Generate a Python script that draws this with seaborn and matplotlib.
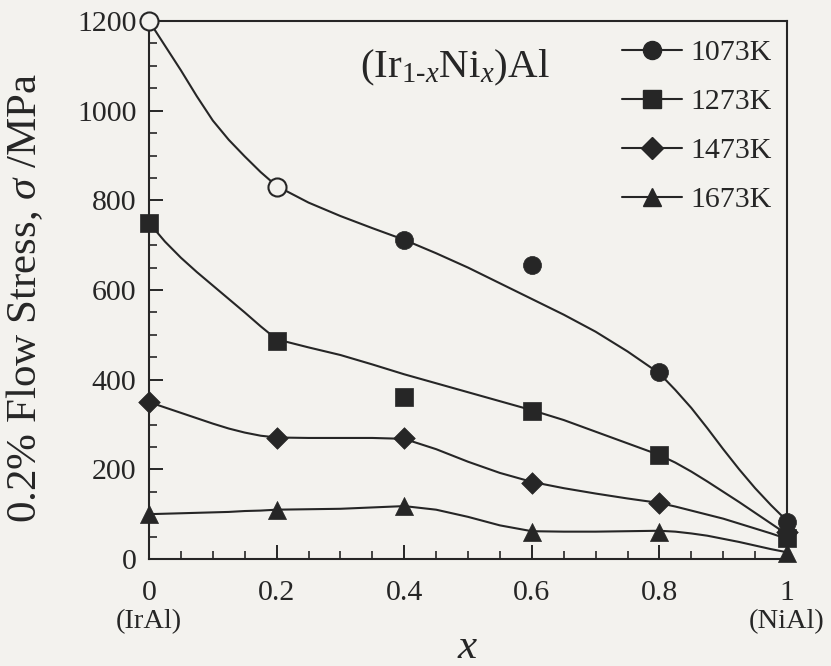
import numpy as np
import pandas as pd
import matplotlib
matplotlib.use("Agg")
import matplotlib.pyplot as plt
from matplotlib.lines import Line2D
import matplotlib.transforms as mtransforms
import seaborn as sns

# ---- data ----
temps = ["1073K", "1273K", "1473K", "1673K"]
x_pts = [0.0, 0.2, 0.4, 0.6, 0.8, 1.0]
s1073 = [1200, 830, 712, 655, 416, 83]
s1273 = [750, 487, 361, 331, 232, 47]
s1473 = [350, 270, 270, 170, 125, 60]
s1673 = [100, 110, 118, 60, 60, 13]
open_1073 = [True, True, False, False, False, False]

# smooth (hand-drawn) fit curves
cx = [0, .025, .05, .075, .1, .125, .15, .175, .2, .25, .3, .35, .4, .45, .5, .55, .6,
      .65, .7, .75, .8, .825, .85, .875, .9, .925, .95, .975, 1.0]
c1073 = [1200, 1145, 1090, 1032, 978, 935, 898, 863, 832, 795, 765, 738, 712, 682, 650,
         615, 580, 545, 507, 463, 414, 377, 337, 292, 245, 200, 158, 120, 85]
c1273 = [750, 708, 672, 640, 610, 580, 550, 519, 490, 472, 455, 434, 412, 392, 372,
         352, 332, 310, 284, 258, 232, 215, 195, 173, 150, 127, 103, 79, 55]
c1473 = [350, 338, 326, 314, 302, 291, 282, 275, 271, 270, 270, 270, 268, 245, 217,
         192, 172, 158, 146, 135, 125, 117, 108, 99, 90, 79, 68, 57, 45]
c1673 = [100, 101, 102, 103, 104, 105, 107, 108, 110, 111, 112, 115, 118, 110, 94,
         75, 62, 61, 61, 62, 63, 61, 57, 52, 45, 38, 30, 22, 15]

xticks = [0, 0.2, 0.4, 0.6, 0.8, 1.0]
xticklabels = ["0", "0.2", "0.4", "0.6", "0.8", "1"]
yticks = [0, 200, 400, 600, 800, 1000, 1200]

# ---- styling ----
sns.set_theme(style="ticks")
bg = "#f3f2ee"
ink = "#262626"
plt.rcParams["font.family"] = ["Liberation Serif", "DejaVu Serif"]
plt.rcParams["mathtext.fontset"] = "custom"
plt.rcParams["mathtext.rm"] = "Liberation Serif"
plt.rcParams["mathtext.it"] = "Liberation Serif:italic"
plt.rcParams["text.color"] = ink
plt.rcParams["axes.labelcolor"] = ink
plt.rcParams["xtick.color"] = ink
plt.rcParams["ytick.color"] = ink

pts = pd.DataFrame({
    "x": x_pts * 4,
    "y": s1073 + s1273 + s1473 + s1673,
    "T": sum([[t] * len(x_pts) for t in temps], []),
    "open": open_1073 + [False] * (3 * len(x_pts)),
})
curves = pd.DataFrame({
    "x": cx * 4,
    "y": c1073 + c1273 + c1473 + c1673,
    "T": sum([[t] * len(cx) for t in temps], []),
})

markers = {"1073K": "o", "1273K": "s", "1473K": "D", "1673K": "^"}
msize = {"1073K": 13, "1273K": 13, "1473K": 11, "1673K": 13}

fig = plt.figure(figsize=(8.31, 6.66), dpi=100, facecolor=bg)
ax = fig.add_axes([149 / 831, 107 / 666, 638 / 831, 538 / 666])
ax.set_facecolor(bg)

sns.lineplot(data=curves, x="x", y="y", hue="T", palette={t: ink for t in temps},
             estimator=None, sort=False, linewidth=1.5, legend=False, ax=ax, zorder=2)

for t in temps:
    sub = pts[(pts["T"] == t) & (~pts["open"])]
    sns.scatterplot(data=sub, x="x", y="y", marker=markers[t], color=ink,
                    s=msize[t] ** 2, edgecolor=ink, linewidth=0.5, legend=False,
                    ax=ax, zorder=3, clip_on=False)
    subo = pts[(pts["T"] == t) & (pts["open"])]
    if len(subo):
        sns.scatterplot(data=subo, x="x", y="y", marker=markers[t], color=bg,
                        s=msize[t] ** 2, edgecolor=ink, linewidth=1.5, legend=False,
                        ax=ax, zorder=4, clip_on=False)

ax.set_xlim(0, 1)
ax.set_ylim(0, 1200)
ax.set_xticks(xticks)
ax.set_xticklabels(xticklabels)
ax.set_yticks(yticks)
ax.set_xticks(np.arange(0, 1.0001, 0.05), minor=True)
ax.set_yticks(np.arange(0, 1201, 50), minor=True)
ax.tick_params(axis="both", which="major", direction="in", length=10, width=1.4,
               labelsize=21.5, top=False, right=False)
ax.tick_params(axis="both", which="minor", direction="in", length=6, width=1.2,
               top=False, right=False)
ax.tick_params(axis="y", which="major", pad=9)
ax.tick_params(axis="x", which="major", pad=15)
for sp in ax.spines.values():
    sp.set_visible(True)
    sp.set_linewidth(1.5)
    sp.set_color(ink)

ax.set_ylabel(r"0.2% Flow Stress, $\sigma$ /MPa", fontsize=31)
ax.yaxis.set_label_coords(-0.163, 0.485)
ax.set_xlabel(r"$x$", fontsize=31, labelpad=16)

trans = mtransforms.blended_transform_factory(ax.transData, ax.transAxes)
ax.text(0, -0.117, "(IrAl)", transform=trans, ha="center", va="center", fontsize=20.5)
ax.text(1, -0.117, "(NiAl)", transform=trans, ha="center", va="center", fontsize=20.5)

ax.text(0.479, 0.913, "(Ir$_{1\u2010x}$Ni$_{x}$)Al", transform=ax.transAxes,
        ha="center", va="center", fontsize=29.5)

handles = [Line2D([0], [0], color=ink, lw=1.5, marker=markers[t],
                  markersize=msize[t], markerfacecolor=ink, markeredgecolor=ink)
           for t in temps]
leg = ax.legend(handles, temps, loc="upper left", bbox_to_anchor=(0.704, 1.01),
                frameon=False, fontsize=21.5, handlelength=2.0, handletextpad=0.3,
                labelspacing=0.74, borderpad=0.3)
for txt in leg.get_texts():
    txt.set_color(ink)

fig.savefig("out.png", dpi=100, facecolor=bg)
